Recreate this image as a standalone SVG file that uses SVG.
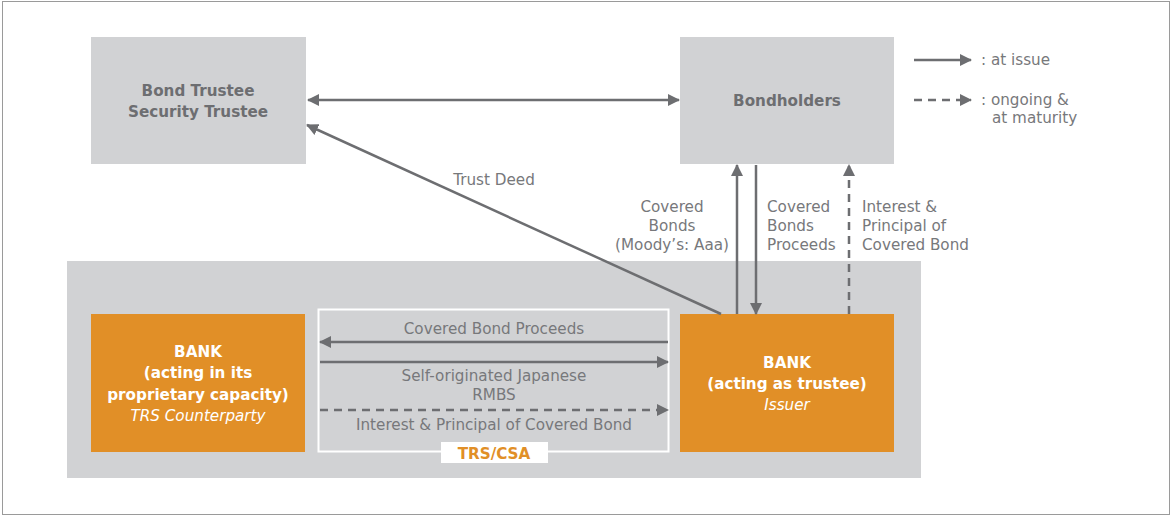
<svg xmlns="http://www.w3.org/2000/svg" width="1173" height="517" viewBox="0 0 1173 517">
<defs>
<marker id="ah" viewBox="0 0 12 12" refX="11" refY="6" markerWidth="12" markerHeight="12" markerUnits="userSpaceOnUse" orient="auto-start-reverse">
<path d="M0,0 L12,6 L0,12 Z" fill="#6d6e71"/>
</marker>
<style>
.g{fill:#d1d2d4}
.o{fill:#e18f27}
.c{stroke:#6d6e71;stroke-width:2.5;fill:none}
.d{stroke-dasharray:8 6}
.t{font-family:"DejaVu Sans",Verdana,sans-serif;font-size:15.2px;fill:#77787b}
.nb{font-family:"DejaVu Sans",Verdana,sans-serif;font-size:15.2px;font-weight:bold;fill:#6d6e71;text-anchor:middle}
.wb{font-family:"DejaVu Sans",Verdana,sans-serif;font-size:15.2px;font-weight:bold;fill:#ffffff;text-anchor:middle}
.wi{font-family:"DejaVu Sans",Verdana,sans-serif;font-size:15.2px;font-style:italic;fill:#ffffff;text-anchor:middle}
.m{text-anchor:middle}
</style>
</defs>
<rect x="2.5" y="1.5" width="1167" height="513" fill="#ffffff" stroke="#9a9a9a" stroke-width="1"/>
<rect id="bank-area" x="67" y="261" width="854" height="217" class="g"/>
<g id="bond-trustee">
<rect x="91" y="37" width="215" height="127" class="g"/>
<text class="nb" x="198" y="96">Bond Trustee</text>
<text class="nb" x="198" y="117">Security Trustee</text>
</g>
<g id="bondholders">
<rect x="680" y="37" width="214" height="127" class="g"/>
<text class="nb" x="787" y="106">Bondholders</text>
</g>
<g id="bank-proprietary">
<rect x="91" y="314" width="214" height="138" class="o"/>
<text class="wb" x="198" y="357">BANK</text>
<text class="wb" x="198" y="378">(acting in its</text>
<text class="wb" x="198" y="400">proprietary capacity)</text>
<text class="wi" x="198" y="421">TRS Counterparty</text>
</g>
<g id="bank-trustee">
<rect x="680" y="314" width="214" height="138" class="o"/>
<text class="wb" x="787" y="368">BANK</text>
<text class="wb" x="787" y="389">(acting as trustee)</text>
<text class="wi" x="787" y="410">Issuer</text>
</g>
<g id="trs-csa">
<rect x="318.5" y="309.5" width="350" height="142" fill="none" stroke="#ffffff" stroke-width="2"/>
<rect x="441" y="442" width="107" height="21" fill="#ffffff"/>
<text x="494" y="459" text-anchor="middle" font-family="DejaVu Sans,Verdana,sans-serif" font-size="15.2" font-weight="bold" fill="#e18f27">TRS/CSA</text>
</g>
<g id="connectors">
<line class="c" x1="308" y1="100" x2="679" y2="100" marker-start="url(#ah)" marker-end="url(#ah)"/>
<line class="c" x1="721" y1="314" x2="307" y2="125" marker-end="url(#ah)"/>
<line class="c" x1="737" y1="314" x2="737" y2="165" marker-end="url(#ah)"/>
<line class="c" x1="756" y1="165" x2="756" y2="314" marker-end="url(#ah)"/>
<line class="c d" x1="849" y1="314" x2="849" y2="165" marker-end="url(#ah)"/>
<line class="c" x1="668" y1="342" x2="320" y2="342" marker-end="url(#ah)"/>
<line class="c" x1="320" y1="362" x2="668" y2="362" marker-end="url(#ah)"/>
<line class="c d" x1="320" y1="410" x2="668" y2="410" marker-end="url(#ah)"/>
<line class="c" x1="914" y1="60" x2="971" y2="60" marker-end="url(#ah)"/>
<line class="c d" x1="914" y1="100" x2="971" y2="100" marker-end="url(#ah)"/>
</g>
<g id="labels">
<text class="t m" x="494" y="185">Trust Deed</text>
<text class="t m" x="672" y="212">Covered</text>
<text class="t m" x="672" y="231">Bonds</text>
<text class="t m" x="672" y="250">(Moody’s: Aaa)</text>
<text class="t" x="767" y="212">Covered</text>
<text class="t" x="767" y="231">Bonds</text>
<text class="t" x="767" y="250">Proceeds</text>
<text class="t" x="862" y="212">Interest &amp;</text>
<text class="t" x="862" y="231">Principal of</text>
<text class="t" x="862" y="250">Covered Bond</text>
<text class="t m" x="494" y="334">Covered Bond Proceeds</text>
<text class="t m" x="494" y="381">Self-originated Japanese</text>
<text class="t m" x="494" y="400">RMBS</text>
<text class="t m" x="494" y="430">Interest &amp; Principal of Covered Bond</text>
<text class="t" x="981" y="65">: at issue</text>
<text class="t" x="981" y="105">: ongoing &amp;</text>
<text class="t" x="992" y="123">at maturity</text>
</g>
</svg>
